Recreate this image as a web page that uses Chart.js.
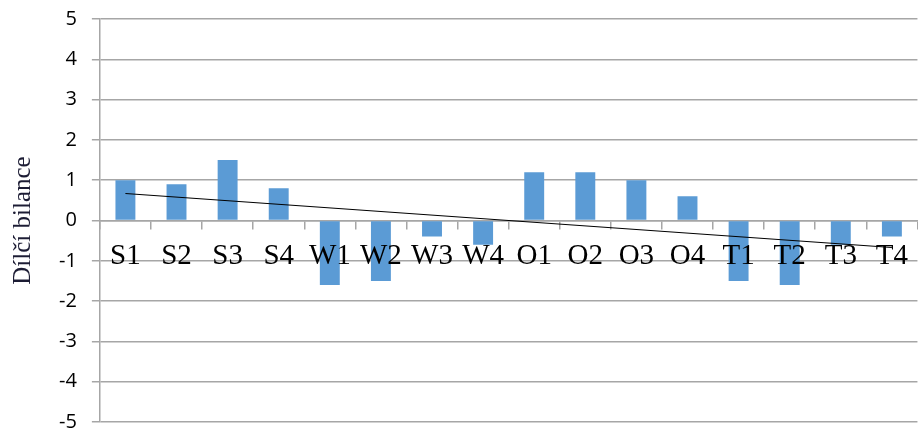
<!DOCTYPE html>
<html>
<head>
<meta charset="utf-8">
<script src="https://cdn.jsdelivr.net/npm/chart.js@4/dist/chart.umd.min.js"></script>
<style>
  html, body { margin: 0; padding: 0; background: #ffffff; }
  #wrap { width: 918px; height: 432px; }
</style>
</head>
<body>
<div id="wrap"><canvas id="c" width="918" height="432"></canvas></div>
<script>
// Quarterly partial balances (S, W, O, T blocks of four)
const categories = ['S1', 'S2', 'S3', 'S4', 'W1', 'W2', 'W3', 'W4',
                    'O1', 'O2', 'O3', 'O4', 'T1', 'T2', 'T3', 'T4'];
const balances = [1.0, 0.9, 1.5, 0.8, -1.6, -1.5, -0.4, -0.6,
                  1.2, 1.2, 1.0, 0.6, -1.5, -1.6, -0.6, -0.4];
// Linear trend line: value at the first and at the last category
const trendStart = 0.67;
const trendEnd = -0.67;
const yTicks = [-5, -4, -3, -2, -1, 0, 1, 2, 3, 4, 5];
const yTitle = 'Dílčí bilance';

const trend = categories.map((_, i) =>
  i === 0 ? trendStart : (i === categories.length - 1 ? trendEnd : null));

const gridGray = '#a6a6a6';

new Chart(document.getElementById('c'), {
  data: {
    labels: categories,
    datasets: [
      {
        type: 'line',
        data: trend,
        borderColor: '#000000',
        borderWidth: 1.2,
        pointRadius: 0,
        spanGaps: true,
        tension: 0,
        order: 0
      },
      {
        type: 'bar',
        data: balances,
        backgroundColor: '#5b9bd5',
        borderWidth: 0,
        categoryPercentage: 1,
        barPercentage: 0.39,
        order: 1
      }
    ]
  },
  options: {
    responsive: false,
    animation: false,
    layout: { padding: { top: 19, bottom: 10, left: 0, right: 0 } },
    plugins: {
      legend: { display: false },
      tooltip: { enabled: false }
    },
    scales: {
      x: {
        position: { y: 0 },
        offset: true,
        grid: {
          offset: true,
          drawOnChartArea: false,
          drawTicks: true,
          tickLength: 8,
          color: gridGray,
          lineWidth: 1.5
        },
        border: { display: true, color: gridGray, width: 1.5 },
        ticks: {
          z: 1,
          padding: 10,
          maxRotation: 0,
          autoSkip: false,
          color: '#000000',
          font: { family: '"Liberation Serif", "Times New Roman", serif', size: 29 }
        }
      },
      y: {
        min: -5,
        max: 5,
        afterBuildTicks: (scale) => { scale.ticks = yTicks.map(v => ({ value: v })); },
        // let the layout padding alone decide the plot's top and bottom
        afterFit: (scale) => { scale.paddingTop = 0; scale.paddingBottom = 0; },
        grid: {
          color: gridGray,
          lineWidth: 1.5,
          drawTicks: true,
          tickLength: 8
        },
        border: { display: true, color: gridGray, width: 1.5 },
        ticks: {
          padding: 15,
          color: '#000000',
          font: { family: '"Open Sans", sans-serif', size: 20 }
        },
        title: {
          display: true,
          text: yTitle,
          color: '#1c1c34',
          padding: { top: 8, bottom: 6 },
          font: { family: '"Liberation Serif", "Times New Roman", serif', size: 25, weight: 'normal' }
        }
      }
    }
  }
});
</script>
</body>
</html>
